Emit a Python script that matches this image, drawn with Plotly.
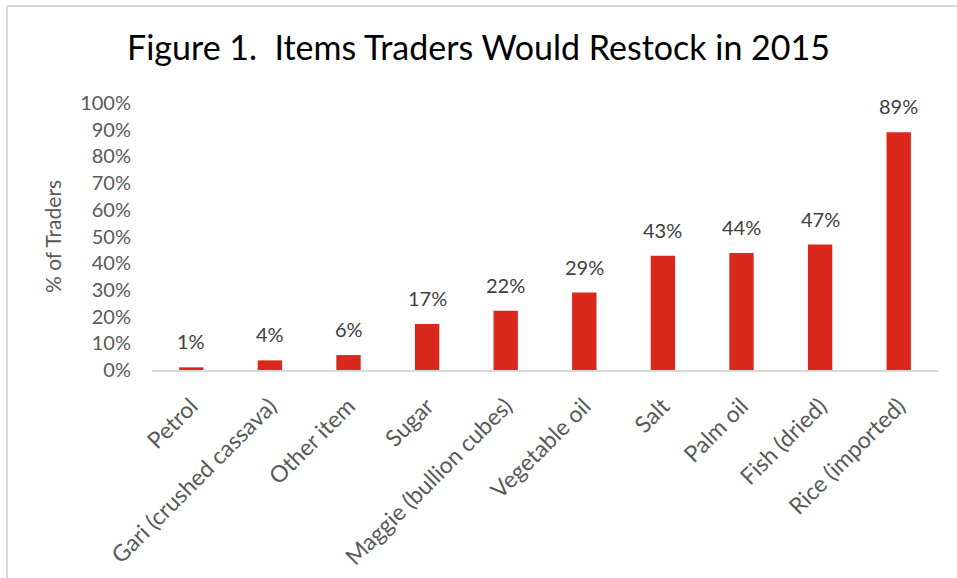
import plotly.graph_objects as go

categories = ["Petrol", "Gari (crushed cassava)", "Other item", "Sugar",
              "Maggie (bullion cubes)", "Vegetable oil", "Salt", "Palm oil",
              "Fish (dried)", "Rice (imported)"]
share = [0.01, 0.036, 0.056, 0.172, 0.222, 0.29, 0.428, 0.438, 0.47, 0.89]
y_ticks = [i / 10 for i in range(11)]
y_tick_labels = [f"{i * 10}%" for i in range(11)]

FONT = "Lato"
GRAY = "#595959"
RED = "#DA291C"

fig = go.Figure(go.Bar(
    x=categories, y=share,
    marker=dict(color=RED, line=dict(width=0)),
    cliponaxis=False,
))

for c, v in zip(categories, share):
    fig.add_annotation(x=c, y=v, text=f"{v:.0%}", showarrow=False,
                       xanchor="center", yanchor="bottom", yshift=12,
                       font=dict(family=FONT, size=20, color="#404040"))

W, H = 957, 578
L, R, T, B = 152, 19, 103, 208
pw, ph = W - L - R, H - T - B

fig.update_layout(
    width=W, height=H,
    margin=dict(l=L, r=R, t=T, b=B, autoexpand=False),
    paper_bgcolor="white", plot_bgcolor="white",
    bargap=0.69,
    showlegend=False,
    title=dict(text="Figure 1.  Items Traders Would Restock in 2015",
               x=0.5, xref="container", xanchor="center",
               y=1 - 48 / H, yref="container", yanchor="middle",
               font=dict(family=FONT, size=34, color="#000000")),
    font=dict(family=FONT, color=GRAY),
    xaxis=dict(
        tickangle=-45, tickfont=dict(family=FONT, size=23, color=GRAY),
        showgrid=False, showline=True, linecolor="#D9D9D9", linewidth=1.5,
        ticks="", automargin=False, ticklabelstandoff=12,
    ),
    yaxis=dict(
        range=[0, 1], tickvals=y_ticks, ticktext=y_tick_labels,
        tickfont=dict(family=FONT, size=20, color=GRAY),
        showgrid=False, showline=False, zeroline=False, ticks="",
        ticklabelstandoff=20, automargin=False,
        title=dict(text="% of Traders", font=dict(family=FONT, size=21, color=GRAY),
                   standoff=12),
    ),
    shapes=[
        dict(type="line", xref="paper", yref="paper",
             x0=(7 - L) / pw, x1=(W - L) / pw,
             y0=(H - B - 6) / ph, y1=(H - B - 6) / ph,
             line=dict(color="#D9D9D9", width=2)),
        dict(type="line", xref="paper", yref="paper",
             x0=(7 - L) / pw, x1=(7 - L) / pw,
             y0=(H - B - 6) / ph, y1=(H - B - H) / ph,
             line=dict(color="#D9D9D9", width=2)),
    ],
)

fig.write_html("out.html", config={"displayModeBar": False},
               post_script="document.body.style.margin='0';")
